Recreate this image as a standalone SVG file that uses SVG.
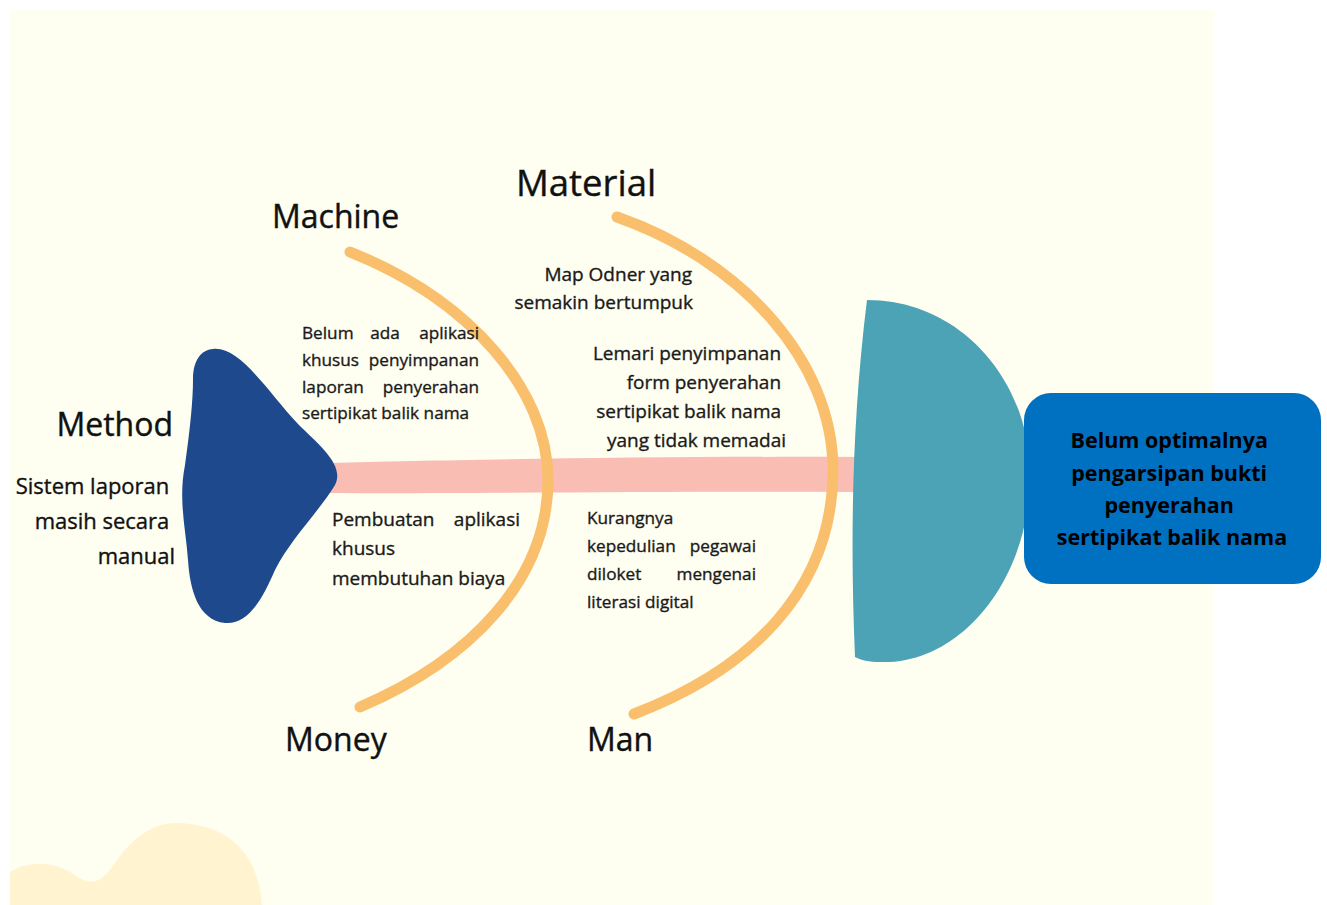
<svg xmlns="http://www.w3.org/2000/svg" width="1327" height="905" viewBox="0 0 1327 905">
  <style>
    .lbl { font-family: "Open Sans", "Liberation Sans", sans-serif; font-size: 32px; fill: #111111; stroke: #111111; stroke-width: 0.4; }
    .txt { font-family: "Open Sans", "Liberation Sans", sans-serif; font-size: 17.2px; fill: #1a1a1a; stroke: #1a1a1a; stroke-width: 0.35; }
    .txt2 { font-family: "Open Sans", "Liberation Sans", sans-serif; font-size: 19px; fill: #1a1a1a; stroke: #1a1a1a; stroke-width: 0.35; }
    .mtd { font-family: "Open Sans", "Liberation Sans", sans-serif; font-size: 22px; fill: #111111; stroke: #111111; stroke-width: 0.35; }
    .end { text-anchor: end; }
    .mid { text-anchor: middle; }
    .bone { fill: none; stroke: #F9BF6C; stroke-width: 11; stroke-linecap: round; }
    .head-txt { font-family: "Open Sans", "Liberation Sans", sans-serif; font-size: 21.5px; font-weight: bold; fill: #000000; text-anchor: middle; }
  </style>

  <!-- canvas -->
  <rect x="0" y="0" width="1327" height="905" fill="#ffffff"/>
  <rect x="10" y="10" width="1203" height="895" fill="#FEFEF1"/>
  <path d="M 10 872 C 25 862, 50 860, 70 872 C 85 882, 95 888, 110 870 C 130 840, 150 822, 180 823 C 225 825, 258 850, 262 905 L 10 905 Z" fill="#FFF4CF"/>

  <!-- spine and ribs -->
  <g id="connectors">
    <path d="M 330 463 C 450 460, 650 456, 860 457 L 860 492 C 650 491, 450 494, 330 493 Z" fill="#F9BDB4"/>
    <path class="bone" d="M 350 252 C 470 300, 548 390, 548 480 C 548 580, 470 660, 360 707"/>
    <path class="bone" d="M 617 217 C 740 260, 833 360, 833 470 C 833 590, 750 670, 634 714"/>
  </g>

  <!-- tail: Method -->
  <g id="method">
    <path d="M 213 349 C 240 346, 268 392, 298 424 C 320 446, 345 465, 335 485 C 320 510, 290 540, 275 570 C 262 600, 248 625, 225 623 C 198 620, 190 590, 188 560 C 186 530, 178 500, 185 465 C 190 430, 193 400, 193 380 C 193 360, 201 350, 213 349 Z" fill="#1E4A8D"/>
    <text class="lbl end" x="173" y="436">Method</text>
    <text class="mtd end">
      <tspan x="175" y="494">Sistem laporan</tspan>
      <tspan x="175" y="529">masih secara</tspan>
      <tspan x="175" y="564">manual</tspan>
    </text>
  </g>

  <!-- Machine -->
  <g id="machine">
    <text class="lbl" x="272" y="228">Machine</text>
    <text class="txt" x="302" y="339">Belum</text>
    <text class="txt mid" x="385" y="339">ada</text>
    <text class="txt end" x="479" y="339">aplikasi</text>
    <text class="txt" x="302" y="366">khusus</text>
    <text class="txt end" x="479" y="366">penyimpanan</text>
    <text class="txt" x="302" y="393">laporan</text>
    <text class="txt end" x="479" y="393">penyerahan</text>
    <text class="txt" x="302" y="419">sertipikat balik nama</text>
  </g>

  <!-- Money -->
  <g id="money">
    <text class="lbl" x="285" y="751">Money</text>
    <text class="txt2" x="332" y="526">Pembuatan</text>
    <text class="txt2 end" x="520" y="526">aplikasi</text>
    <text class="txt2" x="332" y="555">khusus</text>
    <text class="txt2" x="332" y="585">membutuhan biaya</text>
  </g>

  <!-- Material -->
  <g id="material">
    <text class="lbl" x="516" y="196" style="font-size:36.5px">Material</text>
    <text class="txt2 end">
      <tspan x="697" y="281">Map Odner yang</tspan>
      <tspan x="693" y="309">semakin bertumpuk</tspan>
    </text>
    <text class="txt2 end">
      <tspan x="786" y="360">Lemari penyimpanan</tspan>
      <tspan x="786" y="389">form penyerahan</tspan>
      <tspan x="786" y="418">sertipikat balik nama</tspan>
      <tspan x="786" y="447">yang tidak memadai</tspan>
    </text>
  </g>

  <!-- Man -->
  <g id="man">
    <text class="lbl" x="587" y="751">Man</text>
    <text class="txt" x="587" y="524">Kurangnya</text>
    <text class="txt" x="587" y="552">kepedulian</text>
    <text class="txt end" x="756" y="552">pegawai</text>
    <text class="txt" x="587" y="580">diloket</text>
    <text class="txt end" x="756" y="580">mengenai</text>
    <text class="txt" x="587" y="608">literasi digital</text>
  </g>

  <!-- head: problem statement -->
  <g id="head">
    <path d="M 867 300 C 960 300, 1030 380, 1030 475 C 1030 580, 960 665, 880 662 C 870 662, 860 660, 855 657 C 850 540, 852 420, 867 300 Z" fill="#4BA3B5"/>
    <rect x="1024" y="393" width="297" height="191" rx="27" ry="27" fill="#0070C0"/>
    <text class="head-txt">
      <tspan x="1172" y="448">Belum optimalnya</tspan>
      <tspan x="1172" y="481">pengarsipan bukti</tspan>
      <tspan x="1172" y="513">penyerahan</tspan>
      <tspan x="1172" y="545">sertipikat balik nama</tspan>
    </text>
  </g>
</svg>
